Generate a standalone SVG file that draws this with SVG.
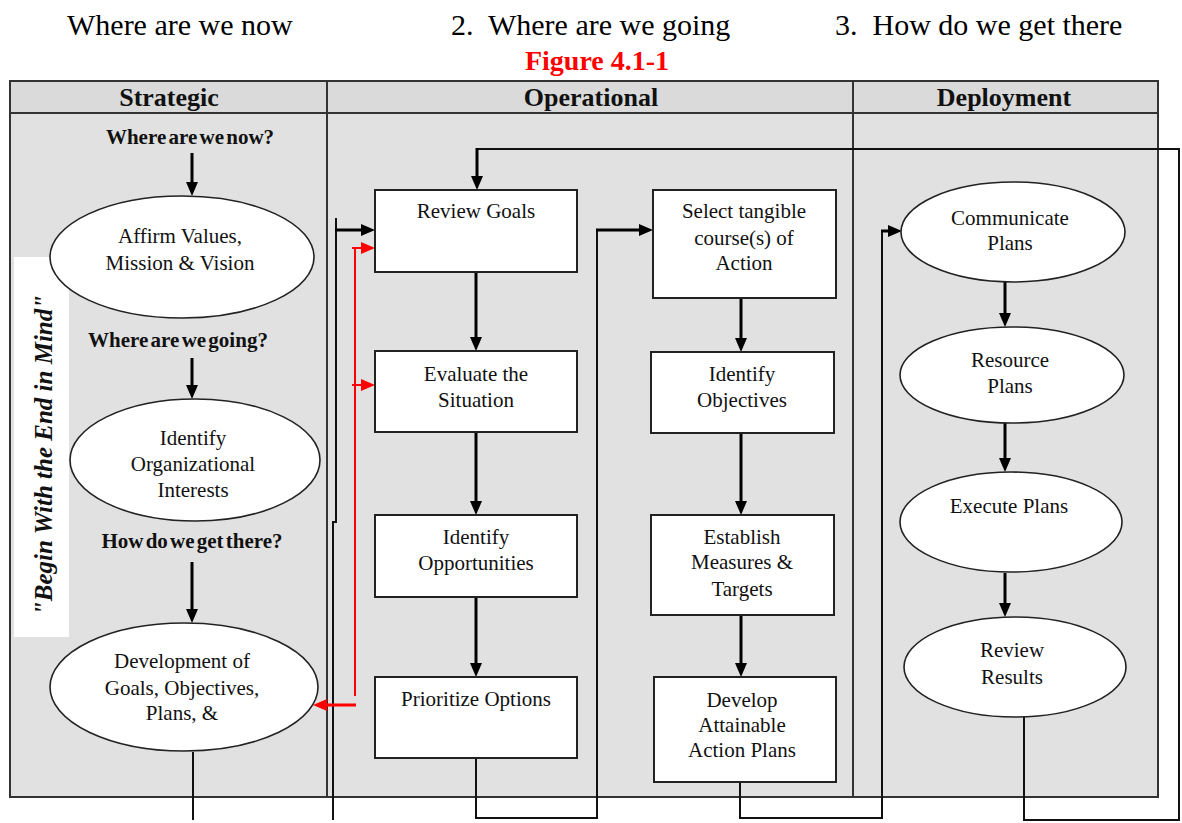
<svg xmlns="http://www.w3.org/2000/svg" width="1182" height="823" viewBox="0 0 1182 823">
<style>
.top{font-family:"Liberation Serif",serif;font-size:30px;fill:#000}
.fig{font-family:"Liberation Serif",serif;font-size:28px;font-weight:bold;fill:#ff0000}
.hdr{font-family:"Liberation Serif",serif;font-size:26px;font-weight:bold;fill:#111;text-anchor:middle}
.q{font-family:"Liberation Serif",serif;font-size:21px;font-weight:bold;fill:#111;text-anchor:middle;word-spacing:-3px}
.t{font-family:"Liberation Serif",serif;font-size:21px;fill:#111;text-anchor:middle}
.vt{font-family:"Liberation Serif",serif;font-size:25px;font-weight:bold;font-style:italic;fill:#111;text-anchor:middle}
.box{fill:#fff;stroke:#222;stroke-width:2}
.ell{fill:#fff;stroke:#222;stroke-width:1.6}
.grid{stroke:#333;stroke-width:2;fill:none}
.flow{stroke:#000;stroke-width:3;fill:none}
.conn{stroke:#111;stroke-width:2;fill:none}
.red{stroke:#ff0000;stroke-width:2;fill:none}
.redf{stroke:#ff0000;stroke-width:3;fill:none}
</style>
<defs>
<marker id="ah" markerUnits="userSpaceOnUse" markerWidth="14" markerHeight="12" refX="6" refY="6" orient="auto">
<path d="M0,0 L14,6 L0,12 z" fill="#000"/>
</marker>
<marker id="ahr" markerUnits="userSpaceOnUse" markerWidth="14" markerHeight="12" refX="6" refY="6" orient="auto">
<path d="M0,0 L14,6 L0,12 z" fill="#ff0000"/>
</marker>
</defs>
<rect width="1182" height="823" fill="#fff"/>
<g id="titles">
<text class="top" x="67" y="35">Where are we now</text>
<text class="top" x="451" y="35" xml:space="preserve">2.  Where are we going</text>
<text class="top" x="835" y="35" xml:space="preserve">3.  How do we get there</text>
<text class="fig" x="597" y="70" text-anchor="middle">Figure 4.1-1</text>
</g>
<g id="table">
<rect x="10" y="81" width="1148" height="716" fill="#e1e1e1"/>
<rect x="10" y="81" width="1148" height="32" fill="#dadada"/>
<rect class="grid" x="10" y="81" width="1148" height="716"/>
<line class="grid" x1="10" y1="113" x2="1158" y2="113"/>
<line class="grid" x1="327" y1="81" x2="327" y2="797"/>
<line class="grid" x1="853" y1="81" x2="853" y2="797"/>
<text class="hdr" x="169" y="106">Strategic</text>
<text class="hdr" x="591" y="106">Operational</text>
<text class="hdr" x="1004" y="106">Deployment</text>
</g>
<g id="side-label">
<rect x="14" y="257" width="55" height="380" fill="#fff"/>
<text class="vt" transform="translate(52,455) rotate(-90)">"Begin With the End in Mind"</text>
</g>
<g id="questions">
<text class="q" x="190" y="144">Where are we now?</text>
<text class="q" x="178" y="347">Where are we going?</text>
<text class="q" x="192" y="548">How do we get there?</text>
</g>
<g id="connectors">
<line class="flow" x1="192" y1="153" x2="192" y2="188" marker-end="url(#ah)"/>
<line class="flow" x1="192" y1="358" x2="192" y2="391" marker-end="url(#ah)"/>
<line class="flow" x1="192" y1="562" x2="192" y2="615" marker-end="url(#ah)"/>
<line class="conn" x1="193" y1="752" x2="193" y2="820"/>
<line class="flow" x1="476" y1="272" x2="476" y2="343" marker-end="url(#ah)"/>
<line class="flow" x1="476" y1="432" x2="476" y2="507" marker-end="url(#ah)"/>
<line class="flow" x1="476" y1="597" x2="476" y2="669" marker-end="url(#ah)"/>
<line class="flow" x1="741" y1="298" x2="741" y2="344" marker-end="url(#ah)"/>
<line class="flow" x1="741" y1="433" x2="741" y2="507" marker-end="url(#ah)"/>
<line class="flow" x1="741" y1="615" x2="741" y2="669" marker-end="url(#ah)"/>
<line class="flow" x1="1005" y1="282" x2="1005" y2="319" marker-end="url(#ah)"/>
<line class="flow" x1="1005" y1="423" x2="1005" y2="464" marker-end="url(#ah)"/>
<line class="flow" x1="1005" y1="573" x2="1005" y2="609" marker-end="url(#ah)"/>
<path class="conn" d="M333,820 V522 H336 V218"/>
<line class="flow" x1="335" y1="230" x2="367" y2="230" marker-end="url(#ah)"/>
<path class="conn" d="M476,758 V818 H597 V230"/>
<line class="flow" x1="596" y1="230" x2="645" y2="230" marker-end="url(#ah)"/>
<path class="conn" d="M740,782 V818 H882 V231"/>
<line class="flow" x1="881" y1="231" x2="894" y2="231" marker-end="url(#ah)"/>
<path class="conn" d="M1024,717 V820 H1179 V149 H477"/>
<line class="flow" x1="477" y1="148" x2="477" y2="182" marker-end="url(#ah)"/>
<line class="red" x1="355" y1="247" x2="355" y2="696"/>
<line class="red" x1="352" y1="248" x2="367" y2="248" marker-end="url(#ahr)"/>
<line class="red" x1="352" y1="385" x2="367" y2="385" marker-end="url(#ahr)"/>
<line class="redf" x1="356" y1="705" x2="321" y2="705" marker-end="url(#ahr)"/>
</g>
<g id="affirm">
<ellipse class="ell" cx="182" cy="257" rx="132" ry="61"/>
<text class="t" x="180" y="243">Affirm Values,</text>
<text class="t" x="180" y="270">Mission &amp; Vision</text>
</g>
<g id="interests">
<ellipse class="ell" cx="195" cy="460" rx="125" ry="61"/>
<text class="t" x="193" y="445">Identify</text>
<text class="t" x="193" y="471">Organizational</text>
<text class="t" x="193" y="497">Interests</text>
</g>
<g id="development">
<ellipse class="ell" cx="184" cy="687" rx="134" ry="64"/>
<text class="t" x="182" y="668">Development of</text>
<text class="t" x="182" y="695">Goals, Objectives,</text>
<text class="t" x="182" y="720">Plans, &amp;</text>
</g>
<g id="review-goals">
<rect class="box" x="375" y="190" width="202" height="82"/>
<text class="t" x="476" y="218">Review Goals</text>
</g>
<g id="evaluate">
<rect class="box" x="375" y="351" width="202" height="81"/>
<text class="t" x="476" y="381">Evaluate the</text>
<text class="t" x="476" y="407">Situation</text>
</g>
<g id="opportunities">
<rect class="box" x="375" y="515" width="202" height="82"/>
<text class="t" x="476" y="544">Identify</text>
<text class="t" x="476" y="570">Opportunities</text>
</g>
<g id="prioritize">
<rect class="box" x="375" y="677" width="202" height="81"/>
<text class="t" x="476" y="706">Prioritize Options</text>
</g>
<g id="select">
<rect class="box" x="653" y="190" width="183" height="108"/>
<text class="t" x="744" y="218">Select tangible</text>
<text class="t" x="744" y="245">course(s) of</text>
<text class="t" x="744" y="270">Action</text>
</g>
<g id="objectives">
<rect class="box" x="651" y="352" width="183" height="81"/>
<text class="t" x="742" y="381">Identify</text>
<text class="t" x="742" y="407">Objectives</text>
</g>
<g id="measures">
<rect class="box" x="651" y="515" width="183" height="100"/>
<text class="t" x="742" y="544">Establish</text>
<text class="t" x="742" y="569">Measures &amp;</text>
<text class="t" x="742" y="596">Targets</text>
</g>
<g id="action-plans">
<rect class="box" x="654" y="677" width="182" height="105"/>
<text class="t" x="742" y="707">Develop</text>
<text class="t" x="742" y="732">Attainable</text>
<text class="t" x="742" y="757">Action Plans</text>
</g>
<g id="communicate">
<ellipse class="ell" cx="1013" cy="232" rx="112" ry="50"/>
<text class="t" x="1010" y="225">Communicate</text>
<text class="t" x="1010" y="250">Plans</text>
</g>
<g id="resource">
<ellipse class="ell" cx="1012" cy="375" rx="112" ry="48"/>
<text class="t" x="1010" y="367">Resource</text>
<text class="t" x="1010" y="393">Plans</text>
</g>
<g id="execute">
<ellipse class="ell" cx="1011" cy="522" rx="111" ry="50"/>
<text class="t" x="1009" y="513">Execute Plans</text>
</g>
<g id="review-results">
<ellipse class="ell" cx="1015" cy="667" rx="111" ry="50"/>
<text class="t" x="1012" y="657">Review</text>
<text class="t" x="1012" y="684">Results</text>
</g>
</svg>
